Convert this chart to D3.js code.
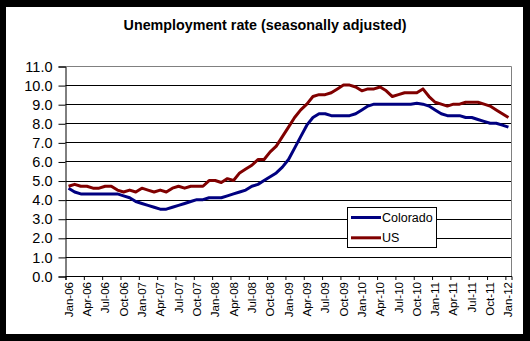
<!DOCTYPE html>
<html><head><meta charset="utf-8">
<script src="https://cdn.jsdelivr.net/npm/d3@7"></script>
<style>
html,body{margin:0;padding:0;background:#000;}
svg{display:block;}
text{font-family:"Liberation Sans",Arial,sans-serif;fill:#000;}
</style></head>
<body>
<svg id="chart" width="530" height="341"></svg>
<script>
const title = "Unemployment rate (seasonally adjusted)";
const monthNames = ["Jan","Feb","Mar","Apr","May","Jun","Jul","Aug","Sep","Oct","Nov","Dec"];
const years = ["06","07","08","09","10","11","12"];
const categories = [];
years.forEach(y => monthNames.forEach(m => { if (categories.length < 73) categories.push(m + "-" + y); }));
const yTicks = [0,1,2,3,4,5,6,7,8,9,10,11];
const seriesNames = ["Colorado","US"];
const seriesColors = ["#000080","#800000"];
const colorado = [
  4.6,4.4,4.3,4.3,4.3,4.3,4.3,4.3,4.3,4.2,4.1,3.9,
  3.8,3.7,3.6,3.5,3.5,3.6,3.7,3.8,3.9,4.0,4.0,4.1,
  4.1,4.1,4.2,4.3,4.4,4.5,4.7,4.8,5.0,5.2,5.4,5.7,
  6.1,6.7,7.3,7.9,8.3,8.5,8.5,8.4,8.4,8.4,8.4,8.5,
  8.7,8.9,9.0,9.0,9.0,9.0,9.0,9.0,9.0,9.05,9.0,8.9,
  8.7,8.5,8.4,8.4,8.4,8.3,8.3,8.2,8.1,8.0,8.0,7.9,
  7.8
];
const us = [
  4.7,4.8,4.7,4.7,4.6,4.6,4.7,4.7,4.5,4.4,4.5,4.4,
  4.6,4.5,4.4,4.5,4.4,4.6,4.7,4.6,4.7,4.7,4.7,5.0,
  5.0,4.9,5.1,5.0,5.4,5.6,5.8,6.1,6.1,6.5,6.8,7.3,
  7.8,8.3,8.7,9.0,9.4,9.5,9.5,9.6,9.8,10.0,10.0,9.9,
  9.7,9.8,9.8,9.9,9.7,9.4,9.5,9.6,9.6,9.6,9.8,9.4,
  9.1,9.0,8.9,9.0,9.0,9.1,9.1,9.1,9.0,8.9,8.7,8.5,
  8.3
];
const seriesValues = [colorado, us];

const svg = d3.select("#chart");
svg.append("rect").attr("x",6).attr("y",7).attr("width",517).attr("height",327).attr("fill","#fff");

const pLeft = 65.5, pRight = 511.5, pTop = 66, pBottom = 276;
const x = d3.scaleBand().domain(categories).range([pLeft, pRight]).padding(0);
const y = d3.scaleLinear().domain([0, 11]).range([pBottom, pTop]);

svg.append("text").attr("x", 265).attr("y", 30).attr("text-anchor","middle")
  .style("font-size","14.3px").style("font-weight","bold").text(title);

// gridlines
svg.append("g").selectAll("line").data(yTicks.filter(v => v > 0 && v < 11)).join("line")
  .attr("x1", pLeft).attr("x2", pRight).attr("y1", d => Math.round(y(d)) + 0.5).attr("y2", d => Math.round(y(d)) + 0.5)
  .attr("stroke","#000").attr("stroke-width",1);

// plot border (top/right grey)
svg.append("path")
  .attr("d", `M${pLeft},${Math.round(y(11))+0.5}H${pRight}V${pBottom}`)
  .attr("fill","none").attr("stroke","#808080").attr("stroke-width",1);

// y axis
const yAxis = d3.axisLeft(y).tickValues(yTicks).tickFormat(d3.format(".1f")).tickSize(7).tickPadding(6);
const gy = svg.append("g").attr("transform", `translate(${pLeft},0.5)`).call(yAxis);
gy.select(".domain").attr("stroke","#000");
gy.selectAll(".tick line").attr("stroke","#000");
gy.selectAll(".tick text").style("font-size","14.5px").attr("fill","#000").style("font-family",'"Liberation Sans",Arial,sans-serif');

// x axis
const tickCats = categories.filter((d,i) => i % 3 === 0);
const xAxis = d3.axisBottom(x).tickValues(tickCats).tickSize(4).tickFormat(d => d);
const gx = svg.append("g").attr("transform", `translate(0,${pBottom})`).call(xAxis);
gx.select(".domain").attr("stroke","#000");
gx.selectAll(".tick").attr("transform", d => `translate(${x(d)},0)`);
gx.selectAll(".tick line").attr("x1",0.5).attr("x2",0.5).attr("stroke","#000");
gx.selectAll(".tick text")
  .attr("transform", `translate(${x.bandwidth()/2},0) rotate(-90)`)
  .attr("x", -6).attr("y", 0).attr("dy","0.35em")
  .attr("text-anchor","end")
  .style("font-size","11.5px").attr("fill","#000").style("font-family",'"Liberation Sans",Arial,sans-serif');

// lines
const line = d3.line().x((d,i) => x(categories[i]) + x.bandwidth()/2).y(d => y(d));
svg.append("g").selectAll("path").data(seriesValues).join("path")
  .attr("d", d => line(d)).attr("fill","none")
  .attr("stroke", (d,i) => seriesColors[i]).attr("stroke-width",3)
  .attr("stroke-linejoin","round");

// legend
const lg = svg.append("g");
lg.append("rect").attr("x",347.5).attr("y",207.5).attr("width",89).attr("height",40)
  .attr("fill","#fff").attr("stroke","#000").attr("stroke-width",1);
seriesNames.forEach((name,i) => {
  const ly = 217.5 + i*20.3;
  lg.append("line").attr("x1",351).attr("x2",381).attr("y1",ly).attr("y2",ly)
    .attr("stroke",seriesColors[i]).attr("stroke-width",3);
  lg.append("text").attr("x",382).attr("y",ly).attr("dy","0.35em").style("font-size","12.5px").text(name);
});
</script>
</body></html>
